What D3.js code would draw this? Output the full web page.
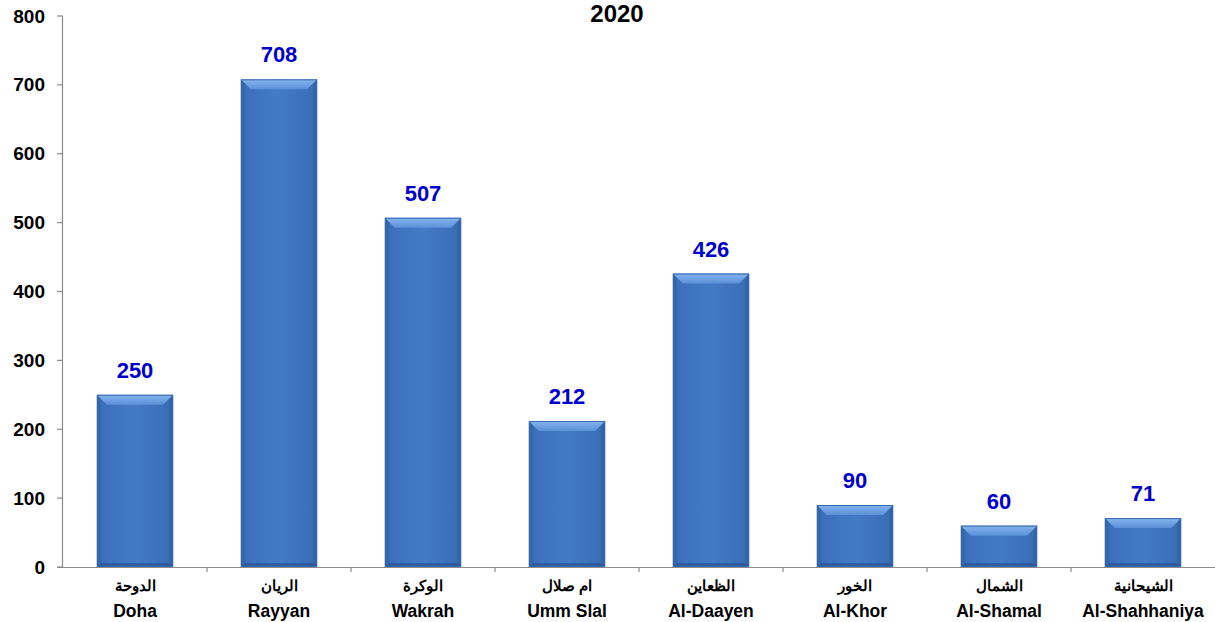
<!DOCTYPE html>
<html>
<head>
<meta charset="utf-8">
<script src="https://cdn.jsdelivr.net/npm/d3@7"></script>
<style>
  body { margin: 0; background: #fff; }
  text { font-family: Arial, "Liberation Sans", sans-serif; font-weight: bold; }
</style>
</head>
<body>
<svg id="chart" width="1215" height="622"></svg>
<script>
// data
var categoriesEn = ["Doha", "Rayyan", "Wakrah", "Umm Slal", "Al-Daayen", "Al-Khor", "Al-Shamal", "Al-Shahhaniya"];
var categoriesAr = ["الدوحة", "الريان", "الوكرة", "ام صلال", "الظعاين", "الخور", "الشمال", "الشيحانية"];
var values = [250, 708, 507, 212, 426, 90, 60, 71];
var yTicks = [0, 100, 200, 300, 400, 500, 600, 700, 800];
var title = "2020";

var svg = d3.select("#chart");
var plotLeft = 63, plotRight = 1215, plotTop = 16, plotBottom = 567;

var x = d3.scaleBand().domain(categoriesEn).range([plotLeft, plotRight]).paddingInner(0.47).paddingOuter(0.235);
var y = d3.scaleLinear().domain([0, 800]).range([plotBottom, plotTop]);

var defs = svg.append("defs");
var g1 = defs.append("linearGradient").attr("id", "barGrad").attr("x1", "0").attr("x2", "1").attr("y1", "0").attr("y2", "0");
g1.append("stop").attr("offset", "0%").attr("stop-color", "#2d5c9c");
g1.append("stop").attr("offset", "7%").attr("stop-color", "#3a71ba");
g1.append("stop").attr("offset", "50%").attr("stop-color", "#447bc5");
g1.append("stop").attr("offset", "93%").attr("stop-color", "#3a6fb7");
g1.append("stop").attr("offset", "100%").attr("stop-color", "#2b5997");
var g2 = defs.append("linearGradient").attr("id", "topGrad").attr("x1", "0").attr("x2", "0").attr("y1", "0").attr("y2", "1");
g2.append("stop").attr("offset", "0%").attr("stop-color", "#86b6ef");
g2.append("stop").attr("offset", "100%").attr("stop-color", "#5a90d8");

// title
svg.append("text").attr("x", 617).attr("y", 22).attr("text-anchor", "middle")
  .style("font-size", "24px").text(title);

// y axis
svg.append("line").attr("x1", plotLeft - 0.5).attr("x2", plotLeft - 0.5).attr("y1", plotTop).attr("y2", plotBottom)
  .attr("stroke", "#8c8c8c").attr("stroke-width", 1.2);
svg.selectAll(".ytick").data(yTicks).enter().append("line")
  .attr("x1", plotLeft - 6).attr("x2", plotLeft).attr("y1", function (d) { return y(d); }).attr("y2", function (d) { return y(d); })
  .attr("stroke", "#8c8c8c").attr("stroke-width", 1.2);
svg.selectAll(".ylab").data(yTicks).enter().append("text")
  .attr("x", 45).attr("y", function (d) { return y(d) + 6.5; }).attr("text-anchor", "end")
  .style("font-size", "19px").text(function (d) { return d; });

// x axis
svg.append("line").attr("x1", plotLeft - 6).attr("x2", plotRight).attr("y1", plotBottom + 0.5).attr("y2", plotBottom + 0.5)
  .attr("stroke", "#8c8c8c").attr("stroke-width", 1.2);
var step = x.step();
var bounds = categoriesEn.slice(1).map(function (c) { return x(c) - x.paddingInner() * step / 2; });
svg.selectAll(".xtick").data(bounds).enter().append("line")
  .attr("x1", function (d) { return d; }).attr("x2", function (d) { return d; })
  .attr("y1", plotBottom).attr("y2", plotBottom + 5)
  .attr("stroke", "#8c8c8c").attr("stroke-width", 1.2);

// bars
var bw = x.bandwidth();
svg.selectAll(".bar").data(values).enter().append("g").each(function (d, i) {
  var g = d3.select(this);
  var x0 = x(categoriesEn[i]), y0 = y(d), h = y(0) - y(d);
  var bv = Math.min(10, h / 2);
  g.append("rect").attr("x", x0).attr("y", y0).attr("width", bw).attr("height", h).attr("fill", "url(#barGrad)");
  // bottom bevel
  g.append("polygon").attr("points", [[x0, y0 + h], [x0 + 4, y0 + h - 4], [x0 + bw - 4, y0 + h - 4], [x0 + bw, y0 + h]].join(" "))
    .attr("fill", "#2b5896").attr("opacity", 0.8);
  // top bevel
  g.append("polygon").attr("points", [[x0, y0], [x0 + bw, y0], [x0 + bw - bv, y0 + bv], [x0 + bv, y0 + bv]].join(" "))
    .attr("fill", "url(#topGrad)");
  g.append("rect").attr("x", x0 + 0.5).attr("y", y0 + 0.5).attr("width", bw - 1).attr("height", h - 1)
    .attr("fill", "none").attr("stroke", "#3a6cad").attr("stroke-width", 1);
});

// value labels
svg.selectAll(".val").data(values).enter().append("text")
  .attr("x", function (d, i) { return x(categoriesEn[i]) + bw / 2; })
  .attr("y", function (d) { return y(d) - 17; })
  .attr("text-anchor", "middle").attr("fill", "#0000cc")
  .style("font-size", "22px").text(function (d) { return d; });

// category labels
svg.selectAll(".ar").data(categoriesAr).enter().append("text")
  .attr("x", function (d, i) { return x(categoriesEn[i]) + bw / 2; })
  .attr("y", 591).attr("text-anchor", "middle").attr("direction", "rtl")
  .style("font-size", "15px").text(function (d) { return d; });
svg.selectAll(".en").data(categoriesEn).enter().append("text")
  .attr("x", function (d) { return x(d) + bw / 2; })
  .attr("y", 617).attr("text-anchor", "middle")
  .style("font-size", "17.5px").text(function (d) { return d; });
</script>
</body>
</html>
